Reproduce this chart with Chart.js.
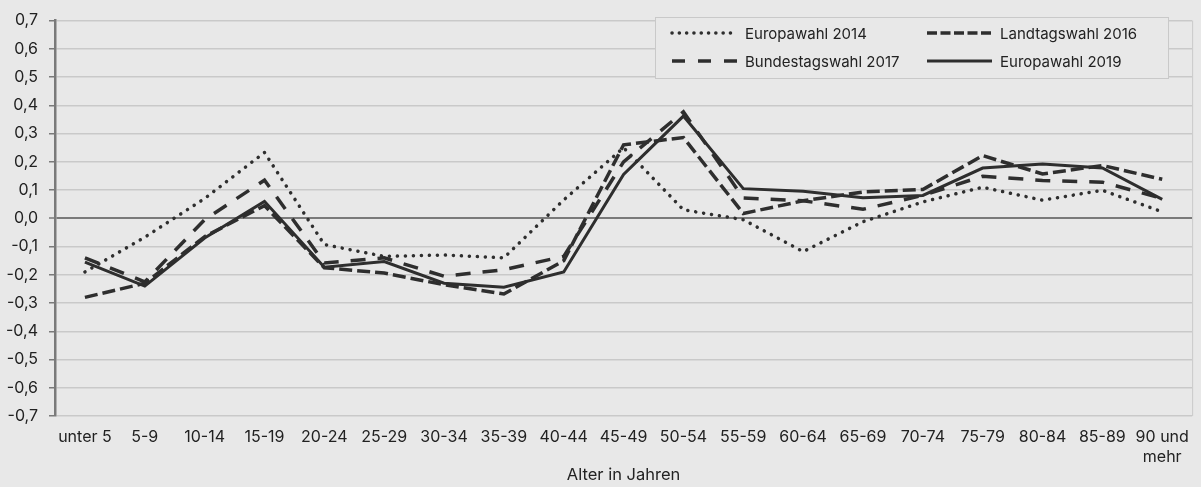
<!DOCTYPE html>
<html lang="de">
<head>
<meta charset="UTF-8">
<title>Alter in Jahren</title>
<script src="https://cdn.jsdelivr.net/npm/chart.js"></script>
<style>
  html, body { margin: 0; padding: 0; background: #e8e8e8; }
  #wrap { width: 1201px; height: 487px; }
</style>
</head>
<body>
<div id="wrap"><canvas id="chart" width="1201" height="487"></canvas></div>
<script>
// age groups
const ageGroups = ['unter 5', '5-9', '10-14', '15-19', '20-24', '25-29', '30-34', '35-39', '40-44',
    '45-49', '50-54', '55-59', '60-64', '65-69', '70-74', '75-79', '80-84', '85-89', ['90 und', 'mehr']];

const europawahl2014 = [-0.19, -0.067, 0.07, 0.233, -0.093, -0.135, -0.13, -0.14, 0.065,
    0.25, 0.03, -0.005, -0.118, -0.012, 0.058, 0.11, 0.064, 0.099, 0.023];
const landtagswahl2016 = [-0.28, -0.23, -0.065, 0.045, -0.175, -0.194, -0.235, -0.268, -0.15,
    0.26, 0.286, 0.017, 0.062, 0.093, 0.102, 0.222, 0.157, 0.187, 0.138];
const bundestagswahl2017 = [-0.14, -0.225, -0.005, 0.135, -0.158, -0.14, -0.205, -0.182, -0.135,
    0.2, 0.377, 0.072, 0.062, 0.032, 0.081, 0.149, 0.134, 0.128, 0.07];
const europawahl2019 = [-0.155, -0.24, -0.07, 0.06, -0.173, -0.153, -0.23, -0.244, -0.19,
    0.155, 0.362, 0.105, 0.096, 0.073, 0.081, 0.178, 0.192, 0.178, 0.067];

const yMin = -0.7, yMax = 0.7, yStep = 0.1;

const ink = '#2e2e2e';
const gridGrey = '#c9c9c9';
const axisGrey = '#7a7a7a';
const font = 'Inter';

function fmt(v) {
    if (Math.abs(v) < 1e-9) return '0,0';
    return v.toFixed(1).replace('.', ',');
}

// legend drawn in a box inside the plot, two columns
const boxLegend = {
    id: 'boxLegend',
    afterDraw(chart) {
        const ctx = chart.ctx;
        const area = chart.chartArea;
        ctx.save();
        // right frame line
        ctx.strokeStyle = gridGrey;
        ctx.lineWidth = 1;
        ctx.beginPath();
        ctx.moveTo(area.right + 0.5, area.top);
        ctx.lineTo(area.right + 0.5, area.bottom);
        ctx.stroke();

        ctx.fillStyle = '#e8e8e8';
        ctx.fillRect(655, 17, 513, 61);
        ctx.strokeRect(655.5, 17.5, 513, 61);

        const slots = [[672, 33], [927, 33], [672, 61], [927, 61]];
        chart.data.datasets.forEach((ds, i) => {
            const [x, y] = slots[i];
            ctx.strokeStyle = ds.borderColor;
            ctx.lineWidth = ds.borderWidth;
            ctx.lineCap = ds.borderCapStyle || 'butt';
            ctx.setLineDash(ds.legendDash || []);
            ctx.beginPath();
            ctx.moveTo(x, y);
            ctx.lineTo(x + 65, y);
            ctx.stroke();
            ctx.setLineDash([]);
            ctx.fillStyle = '#222';
            ctx.font = '15px ' + font;
            ctx.textBaseline = 'middle';
            ctx.fillText(ds.label, x + 73, y + 1);
        });
        ctx.restore();
    }
};

const ctx = document.getElementById('chart').getContext('2d');
new Chart(ctx, {
    type: 'line',
    data: {
        labels: ageGroups,
        datasets: [
            {
                label: 'Europawahl 2014',
                data: europawahl2014,
                borderColor: ink,
                borderWidth: 3.5,
                borderDash: [0.1, 7.9],
                borderCapStyle: 'round',
                legendDash: [0.1, 7.2]
            },
            {
                label: 'Landtagswahl 2016',
                data: landtagswahl2016,
                borderColor: ink,
                borderWidth: 3.5,
                borderDash: [13, 5],
                legendDash: [10, 3.5]
            },
            {
                label: 'Bundestagswahl 2017',
                data: bundestagswahl2017,
                borderColor: ink,
                borderWidth: 3.5,
                borderDash: [15, 12],
                legendDash: [13, 13]
            },
            {
                label: 'Europawahl 2019',
                data: europawahl2019,
                borderColor: ink,
                borderWidth: 3,
                legendDash: []
            }
        ]
    },
    options: {
        responsive: false,
        animation: false,
        events: [],
        layout: { padding: { top: 17, right: 6, left: 0, bottom: 0 } },
        elements: {
            point: { radius: 0 },
            line: { tension: 0, fill: false, borderJoinStyle: 'miter' }
        },
        plugins: {
            legend: { display: false },
            tooltip: { enabled: false }
        },
        scales: {
            x: {
                offset: true,
                grid: { display: false, drawTicks: false },
                border: { display: false },
                ticks: {
                    color: '#222',
                    font: { family: font, size: 16 },
                    padding: 12,
                    maxRotation: 0,
                    autoSkip: false
                },
                title: {
                    display: true,
                    text: 'Alter in Jahren',
                    color: '#222',
                    font: { family: font, size: 16.5 },
                    padding: { top: 0, bottom: 2 }
                },
                afterFit(scale) { scale.height = 71; }
            },
            y: {
                min: yMin,
                max: yMax,
                grid: {
                    color: (c) => (c.tick && Math.abs(c.tick.value) < 1e-9) ? axisGrey : gridGrey,
                    lineWidth: (c) => (c.tick && Math.abs(c.tick.value) < 1e-9) ? 2 : 1.5,
                    tickColor: axisGrey,
                    tickLength: 6,
                    tickWidth: 1.5
                },
                border: { display: true, color: axisGrey, width: 2.5 },
                ticks: {
                    stepSize: yStep,
                    color: '#222',
                    font: { family: font, size: 16 },
                    padding: 11,
                    callback: (v) => fmt(v)
                },
                afterFit(scale) { scale.width = 55; }
            }
        }
    },
    plugins: [boxLegend]
});
</script>
</body>
</html>
